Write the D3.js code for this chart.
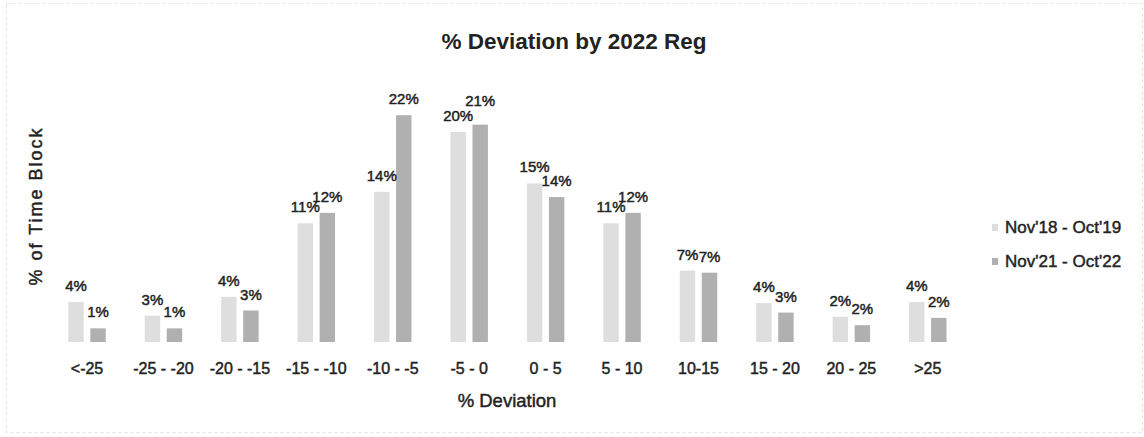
<!DOCTYPE html>
<html>
<head>
<meta charset="utf-8">
<script src="https://cdn.jsdelivr.net/npm/d3@7"></script>
<style>
  html, body { margin: 0; padding: 0; background: #fff; }
  svg { display: block; font-family: "Liberation Sans", Arial, sans-serif; }
  .heavy { stroke: #222; stroke-width: 0.45px; }
</style>
</head>
<body>
<svg id="chart_svg" width="1144" height="437"></svg>
<script>
const categories = ["<-25", "-25 - -20", "-20 - -15", "-15 - -10", "-10 - -5", "-5 - 0", "0 - 5", "5 - 10", "10-15", "15 - 20", "20 - 25", ">25"]
const seriesNames = ["Nov'18 - Oct'19", "Nov'21 - Oct'22"]
const values_1819 = [3.8, 2.5, 4.3, 11.3, 14.3, 20.0, 15.1, 11.3, 6.8, 3.7, 2.4, 3.8]
const values_2122 = [1.3, 1.3, 3.0, 12.3, 21.6, 20.7, 13.8, 12.3, 6.6, 2.8, 1.6, 2.3]
const seriesColors = ["#dedede", "#b0b0b0"]

const width = 1144
const height = 437
const baseline = 342
const textColor = "#222"
const labelSize = 15

let svg = d3.select("#chart_svg")

// faint frame of the original image
svg.append("rect")
  .attr("x", 6.5).attr("y", 3.5)
  .attr("width", width - 8).attr("height", height - 8)
  .attr("fill", "none")
  .attr("stroke", "#e2e2e2")
  .attr("stroke-dasharray", "3,3")

let rows = categories.map((c, i) => ({ category: c, values: [values_1819[i], values_2122[i]] }))

const x0 = d3.scaleBand()
  .domain(categories)
  .range([48.8, 966])
  .paddingInner(0.51)
  .paddingOuter(0.255)

const x1 = d3.scaleBand()
  .domain([0, 1])
  .range([0, x0.bandwidth()])
  .paddingInner(0.3)

const y = d3.scaleLinear()
  .domain([0, 25])
  .range([baseline, baseline - 262.5])

let groups = svg.append("g").attr("class", "bars")
  .selectAll(".group")
  .data(rows)
  .enter()
  .append("g")
  .attr("class", "group")
  .attr("transform", (d) => `translate(${x0(d.category)},0)`)

groups.selectAll("rect")
  .data((d) => d.values.map((v, s) => ({ v, s })))
  .enter()
  .append("rect")
  .attr("x", (d) => x1(d.s))
  .attr("y", (d) => y(d.v))
  .attr("width", x1.bandwidth())
  .attr("height", (d) => baseline - y(d.v))
  .attr("fill", (d) => seriesColors[d.s])

// label positions, lift the taller one when the pair would collide
function labelPositions(values) {
  let texts = values.map((v) => Math.round(v) + "%")
  let ys = values.map((v) => y(v) - 11)
  let w = texts.map((t) => t.length * 0.6 * labelSize)
  let overlapX = (w[0] + w[1]) / 2 > x1.step()
  if (overlapX && Math.abs(ys[0] - ys[1]) < 10) {
    if (ys[1] < ys[0]) ys[1] = ys[0] - 15
    else ys[0] = ys[1] - 15
  }
  return values.map((v, s) => ({ v, s, text: texts[s], ly: ys[s] }))
}

groups.selectAll(".val_label")
  .data((d) => labelPositions(d.values))
  .enter()
  .append("text")
  .attr("class", "val_label heavy")
  .attr("x", (d) => x1(d.s) + x1.bandwidth() / 2)
  .attr("y", (d) => d.ly)
  .attr("text-anchor", "middle")
  .attr("font-size", labelSize)
  .attr("fill", textColor)
  .text((d) => d.text)

// x axis, labels only
let x_axis = d3.axisBottom(x0).tickSize(0).tickPadding(21)
let g_x = svg.append("g")
  .attr("transform", `translate(0,${baseline})`)
  .call(x_axis)
g_x.select(".domain").remove()
g_x.selectAll("text")
  .attr("class", "heavy")
  .attr("font-size", 16)
  .attr("font-family", null)
  .attr("fill", textColor)

// title
svg.append("text")
  .attr("x", 574)
  .attr("y", 49)
  .attr("text-anchor", "middle")
  .attr("font-size", 22.5)
  .attr("font-weight", "bold")
  .attr("fill", textColor)
  .text("% Deviation by 2022 Reg")

// axis titles
svg.append("text")
  .attr("class", "heavy")
  .attr("x", 507)
  .attr("y", 407)
  .attr("text-anchor", "middle")
  .attr("font-size", 18.5)
  .attr("fill", textColor)
  .text("% Deviation")

svg.append("text")
  .attr("class", "heavy")
  .attr("transform", "translate(42,206) rotate(-90)")
  .attr("text-anchor", "middle")
  .attr("font-size", 18)
  .attr("letter-spacing", 2)
  .attr("fill", textColor)
  .text("% of Time Block")

// legend
let legend = svg.append("g").attr("transform", "translate(992,233)")
let items = legend.selectAll(".legend_item")
  .data(seriesNames)
  .enter()
  .append("g")
  .attr("class", "legend_item")
  .attr("transform", (d, i) => `translate(0,${i * 34})`)

items.append("rect")
  .attr("x", 0).attr("y", -9)
  .attr("width", 6).attr("height", 7)
  .attr("fill", (d, i) => seriesColors[i])

items.append("text")
  .attr("class", "heavy")
  .attr("x", 13)
  .attr("y", 0)
  .attr("font-size", 17)
  .attr("fill", textColor)
  .text((d) => d)
</script>
</body>
</html>
